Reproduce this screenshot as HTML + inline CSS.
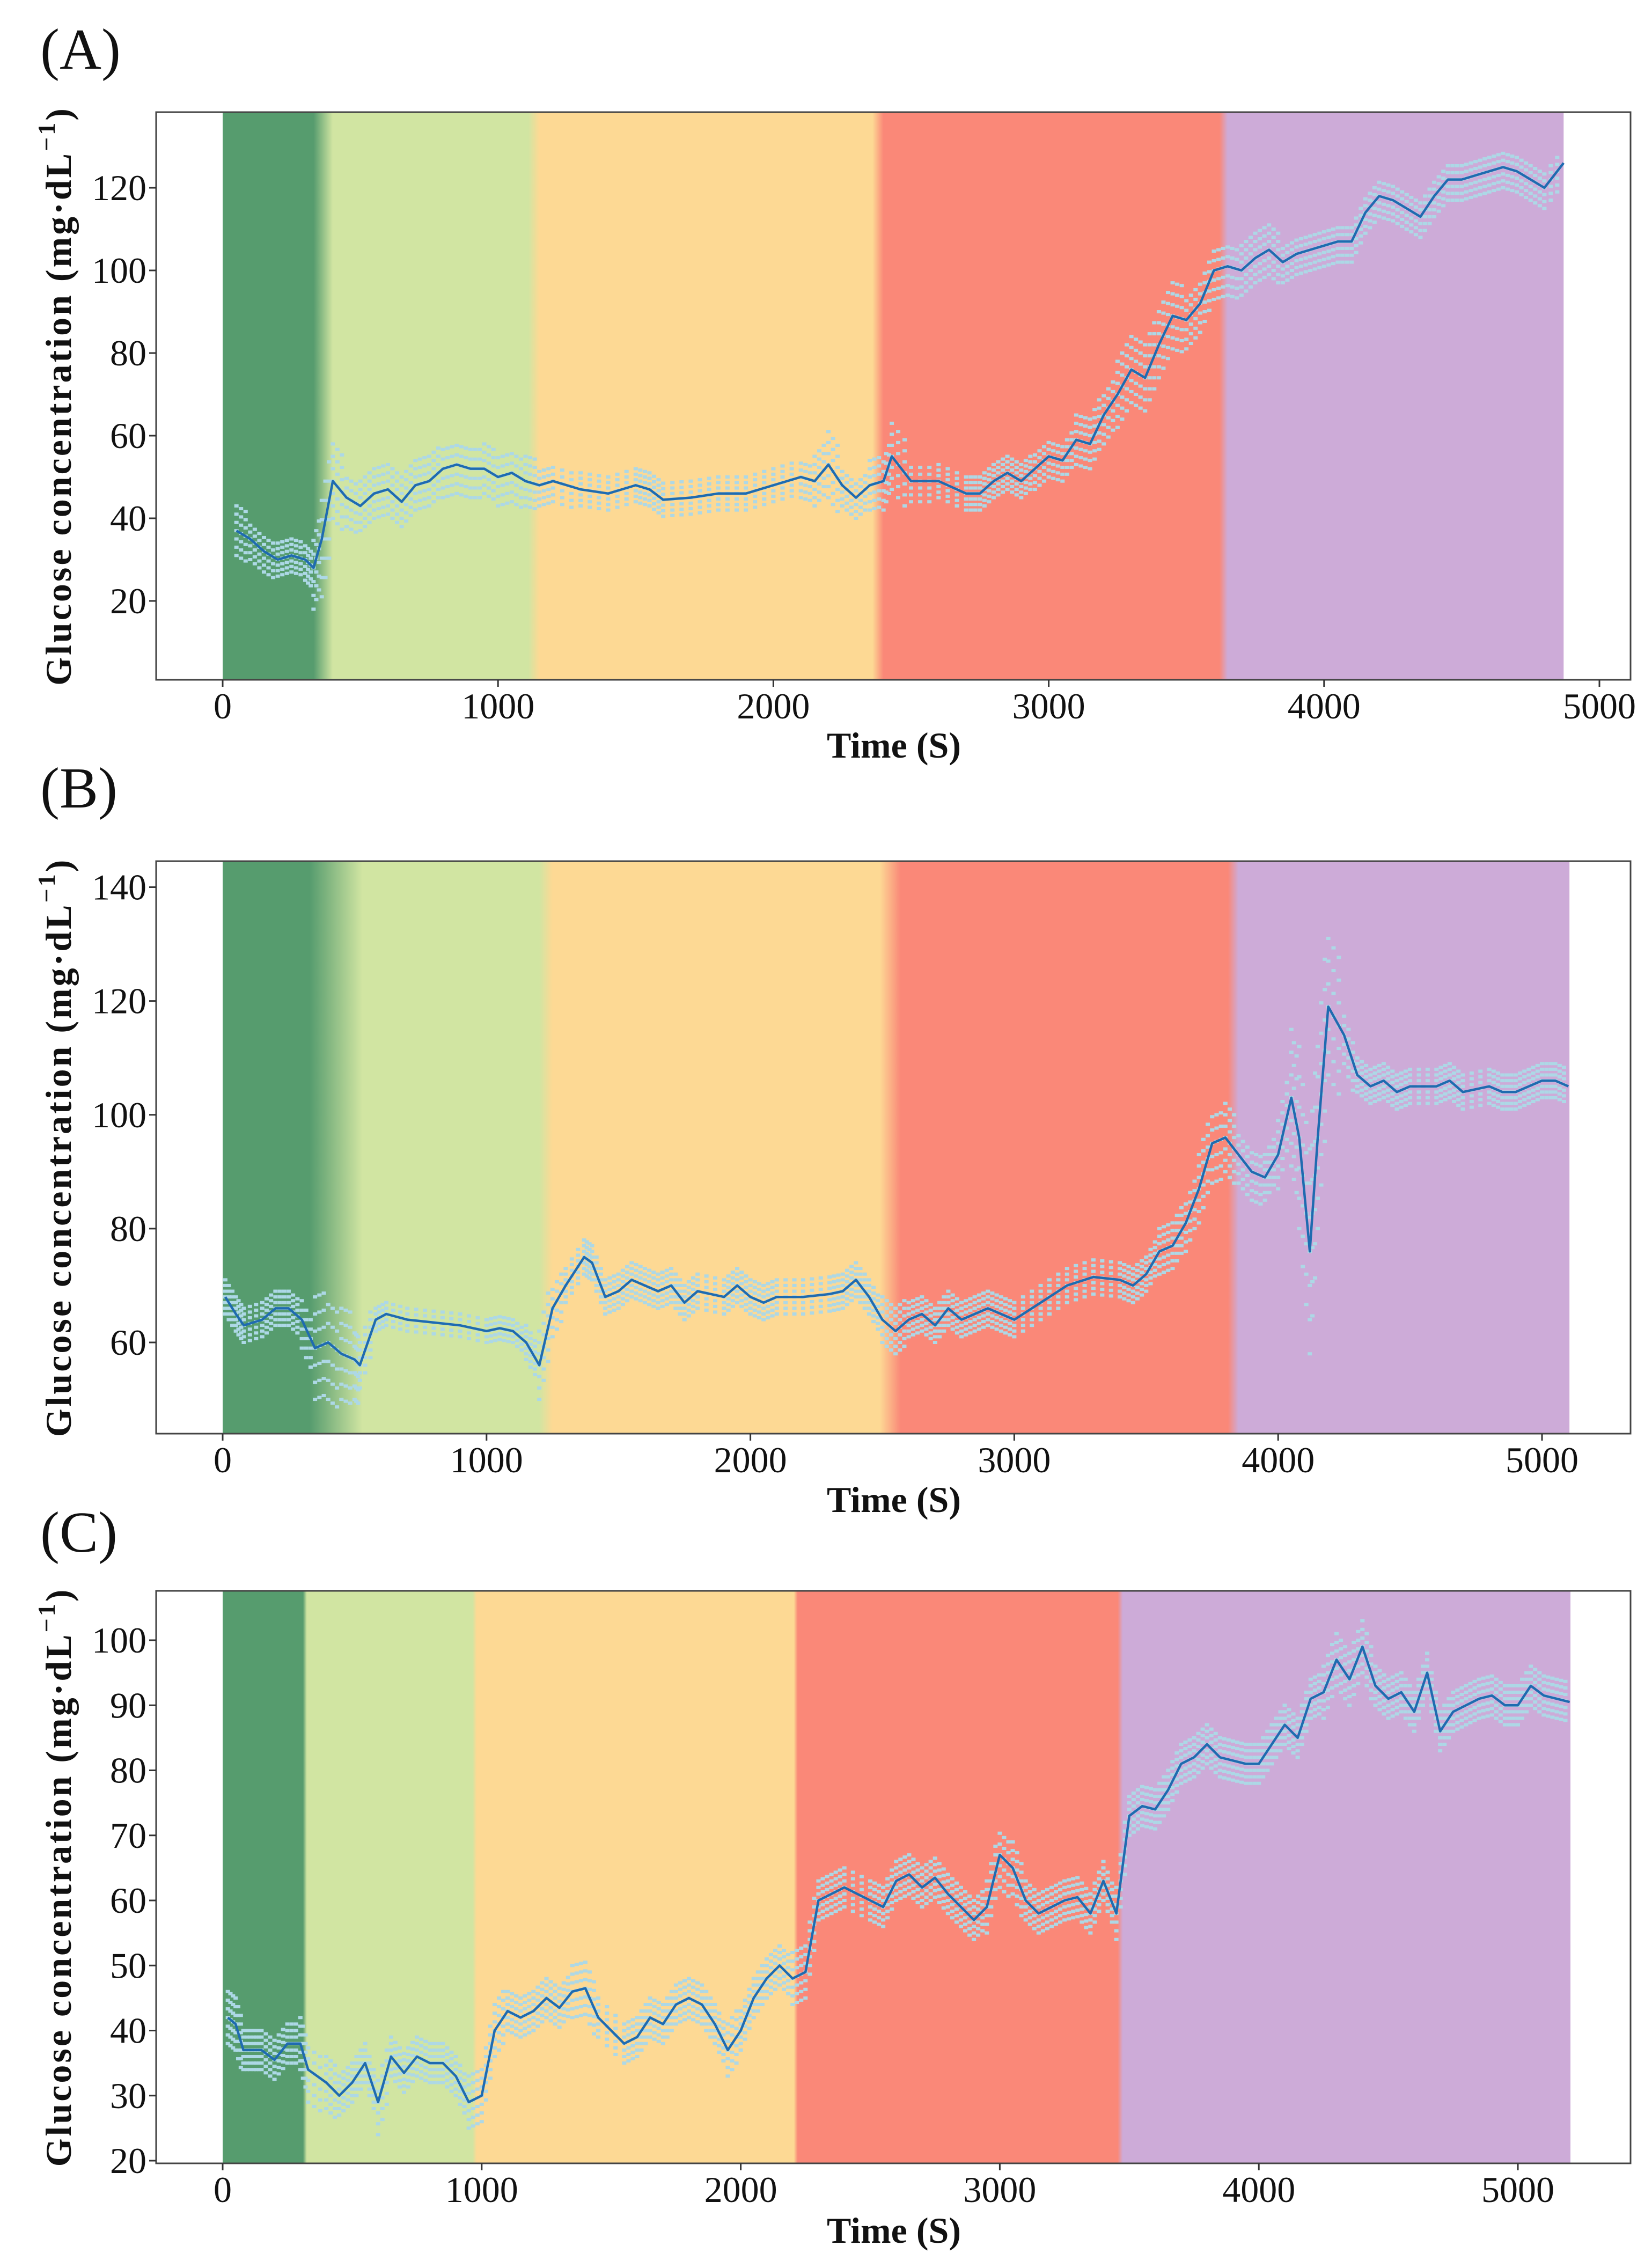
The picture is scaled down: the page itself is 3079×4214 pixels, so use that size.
<!DOCTYPE html>
<html><head><meta charset="utf-8"><style>
html,body{margin:0;padding:0;background:#fff;}
svg{display:block;}
text{font-family:"Liberation Serif",serif;fill:#111;}
</style></head><body>
<svg id="fig" xmlns="http://www.w3.org/2000/svg" width="3079" height="4214" viewBox="0 0 3079 4214">
<rect x="0" y="0" width="3079" height="4214" fill="#fff"/>
</svg>
<script>
// ---------- Panel A data ----------
const timesA=[50,100,150,200,250,300,330,360,400,450,500,550,600,650,700,750,800,850,900,950,1000,1050,1100,1150,1200,1300,1400,1500,1550,1600,1700,1800,1900,2000,2100,2150,2200,2250,2300,2350,2400,2430,2500,2600,2700,2750,2800,2850,2900,2950,3000,3050,3100,3150,3200,3250,3300,3350,3400,3450,3500,3550,3600,3650,3700,3750,3800,3850,3900,3950,4000,4050,4100,4150,4200,4250,4300,4350,4400,4450,4500,4550,4600,4650,4700,4750,4800,4870];
const valuesA=[37,35,32,30,31,30,28,35,49,45,43,46,47,44,48,49,52,53,52,52,50,51,49,48,49,47,46,48,47,44.5,45,46,46,48,50,49,53,48,45,48,49,55,49,49,46,46,49,51,49,52,55,54,59,58,65,70,76,74,82,89,88,92,100,101,100,103,105,102,104,105,106,107,107,114,118,117,115,113,118,122,122,123,124,125,124,122,120,126];
const spreadA=[6,5,5,4,4,5,10,14,9,7,6,6,6,6,6,6,7,7,7,6,7,7,6,5,5,4,4,4,4,4,4,4,4,4,5,6,8,5,5,6,7,8,5,4,4,4,4,4,4,5,5,5,6,6,7,8,8,8,8,8,7,7,7,7,6,6,6,5,5,5,5,5,5,5,5,5,5,5,5,5,5,5,5,5,5,5,5,6];
const yTicksA=[20,40,60,80,100,120];
const xTicksA=[0,1000,2000,3000,4000,5000];
const bandsA=[[0,330,400,"#569c6e"],[400,1110,1150,"#d1e5a2"],[1150,2360,2400,"#fdd994"],[2400,3620,3650,"#fa8878"],[3650,4870,4870,"#cdabd8"]];

// ---------- Panel B data ----------
const timesB=[10,50,80,150,200,250,300,350,400,450,500,520,580,620,700,800,900,1000,1050,1100,1150,1200,1250,1300,1370,1400,1450,1500,1550,1600,1650,1700,1750,1800,1900,1950,2000,2050,2100,2200,2300,2350,2400,2450,2500,2550,2600,2650,2700,2750,2800,2850,2900,2950,3000,3100,3200,3300,3400,3450,3500,3550,3600,3650,3700,3750,3800,3850,3900,3950,4000,4050,4080,4120,4150,4190,4250,4300,4350,4400,4450,4500,4600,4650,4700,4800,4850,4900,4950,5000,5050,5100];
const valuesB=[68,65,63,64,66,66,64,59,60,58,57,56,64,65,64,63.5,63,62,62.5,62,60,56,66,70,75,74,68,69,71,70,69,70,67,69,68,70,68,67,68,68,68.5,69,71,68,64,62,64,65,63,66,64,65,66,65,64,67,70,71.5,71,70,72,76,77,81,87,95,96,93,90,89,93,103,96,76,96,119,114,107,105,106,104,105,105,106,104,105,104,104,105,106,106,105];
const spreadB=[3,3,3,3,3,3,5,9,10,8,7,4,2,2,2,2,2,2,2,2,3,6,5,3,3,3,3,3,3,3,3,3,3,3,3,3,3,3,3,3,3,3,3,3,4,4,3,3,3,3,3,3,3,3,3,3,3,3,3,3,3,4,4,5,6,7,6,5,5,4,6,12,16,18,16,12,5,3,3,3,3,3,3,3,3,3,3,3,3,3,3,3];
const yTicksB=[60,80,100,120,140];
const xTicksB=[0,1000,2000,3000,4000,5000];
const bandsB=[[0,330,530,"#569c6e"],[530,1200,1250,"#d1e5a2"],[1250,2490,2570,"#fdd994"],[2570,3810,3850,"#fa8878"],[3850,5104,5104,"#cdabd8"]];

// ---------- Panel C data ----------
const timesC=[20,50,80,120,150,200,250,300,330,400,450,500,550,600,650,700,750,800,850,900,950,1000,1050,1100,1150,1200,1250,1300,1350,1400,1450,1550,1600,1650,1700,1750,1800,1850,1900,1950,2000,2050,2100,2150,2200,2250,2300,2350,2400,2500,2550,2600,2650,2700,2750,2800,2850,2900,2950,3000,3050,3100,3150,3200,3250,3300,3350,3400,3450,3500,3550,3600,3650,3700,3750,3800,3850,3900,3950,4000,4050,4100,4150,4200,4250,4300,4350,4400,4450,4500,4550,4600,4650,4700,4750,4800,4850,4900,4950,5000,5050,5100,5150,5200];
const valuesC=[42,41,37,37,37,35.5,38,38,34,32,30,32,35,29,36,33.5,36,35,35,33,29,30,40,43,42,43,45,43.5,46,46.5,42,38,39,42,41,44,45,44,41,37,40,45,48,50,48,49,60,61,62,60,59,63,64,62,63.5,61,59,57,59,67,65,60,58,59,60,60.5,58,63,58,73,74.5,74,77,81,82,84,82,81.5,81,81,84,87,85,91,92,97,94,99,93,91,92,89,95,86,89,90,91,91.5,90,90,93,91.5,91,90.5];
const spreadC=[4,4,3,3,3,3,3,4,5,4,3,3,3,5,3,3,3,3,3,3,4,4,4,3,3,3,3,3,4,4,3,3,3,3,3,3,3,3,3,4,3,3,3,3,4,4,3,3,3,3,3,3,3,3,3,3,3,3,4,5,4,3,3,3,3,3,3,3,4,3,3,3,3,3,3,3,3,3,3,3,3,3,3,3,4,4,4,4,3,3,3,3,3,3,3,3,3,3,3,3,3,3,3,3];
const yTicksC=[20,30,40,50,60,70,80,90,100];
const xTicksC=[0,1000,2000,3000,4000,5000];
const bandsC=[[0,310,325,"#569c6e"],[325,965,980,"#d1e5a2"],[980,2205,2220,"#fdd994"],[2220,3455,3475,"#fa8878"],[3475,5203,5203,"#cdabd8"]];

const NS="http://www.w3.org/2000/svg";
const svg=document.getElementById('fig');
function el(tag,attrs,parent){const e=document.createElementNS(NS,tag);for(const k in attrs)e.setAttribute(k,attrs[k]);(parent||svg).appendChild(e);return e;}

const panels=[
 {id:'a',letter:'(A)',letterY:128,top:209,bottom:1267,x0:415,x5000:2981,yLo:20,yLoPx:1120,yHi:120,yHiPx:350,times:timesA,values:valuesA,spread:spreadA,yTicks:yTicksA,xTicks:xTicksA,bands:bandsA,xlabY:1412},
 {id:'b',letter:'(B)',letterY:1505,top:1605,bottom:2672,x0:415,x5000:2874,yLo:60,yLoPx:2502,yHi:140,yHiPx:1653.5,times:timesB,values:valuesB,spread:spreadB,yTicks:yTicksB,xTicks:xTicksB,bands:bandsB,xlabY:2818},
 {id:'c',letter:'(C)',letterY:2892,top:2965,bottom:4032,x0:415,x5000:2829,yLo:20,yLoPx:4027,yHi:100,yHiPx:3057,times:timesC,values:valuesC,spread:spreadC,yTicks:yTicksC,xTicks:xTicksC,bands:bandsC,xlabY:4180}
];
const L=291,R=3039;
panels.forEach(p=>{
 const g=el('g',{});
 
 
 const xs=t=>p.x0+(p.x5000-p.x0)*t/5000;
 const ys=v=>p.yLoPx+(p.yHiPx-p.yLoPx)*(v-p.yLo)/(p.yHi-p.yLo);
 const lt=el('text',{x:75,y:p.letterY,'font-size':108},g);lt.textContent=p.letter;
 
 
 const defs=el('defs',{},g);
 const gx0=xs(0),gx1=xs(p.bands[p.bands.length-1][2]);
 const lg=el('linearGradient',{id:'grad'+p.id,gradientUnits:'userSpaceOnUse',x1:gx0,y1:0,x2:gx1,y2:0},defs);
 const W=gx1-gx0;
 p.bands.forEach(b=>{
  el('stop',{offset:((xs(b[0])-gx0)/W),'stop-color':b[3]},lg);
  el('stop',{offset:((xs(b[1])-gx0)/W),'stop-color':b[3]},lg);
 });
 const bg=el('rect',{x:gx0,y:p.top,width:W,height:p.bottom-p.top,fill:'url(#grad'+p.id+')'},g);
 
 
 const sg=el('g',{fill:'#add8e6'},g);
 
 
 for(let i=0;i<p.times.length-1;i++){
  for(let k=0;k<3;k++){
   const f=k/3;const t=p.times[i]+(p.times[i+1]-p.times[i])*f;
   const v=p.values[i]+(p.values[i+1]-p.values[i])*f;
   const s=p.spread[i];
   for(let d=-s;d<=s;d+=Math.max(1,s/3)){
    el('rect',{x:xs(t)-4,y:ys(v+d)-3,width:8,height:6},sg);
   }
  }
 }
 let dstr='';
 p.times.forEach((t,i)=>{dstr+=(i?'L':'M')+xs(t).toFixed(1)+' '+ys(p.values[i]).toFixed(1);});
 const ln=el('path',{d:dstr,fill:'none',stroke:'#1f6bb0','stroke-width':4.5,'stroke-linejoin':'round'},g);
 
 
 const fr=el('rect',{x:L,y:p.top,width:R-L,height:p.bottom-p.top,fill:'none',stroke:'#444','stroke-width':3},g);
 
 
 p.xTicks.forEach(t=>{
  const x=xs(t);
  el('line',{x1:x,y1:p.bottom,x2:x,y2:p.bottom+13,stroke:'#333','stroke-width':3},g);
  const tx=el('text',{x:x,y:p.bottom+72,'font-size':68,'text-anchor':'middle'},g);tx.textContent=t;
  
  
 });
 p.yTicks.forEach(v=>{
  const y=ys(v);
  el('line',{x1:L-13,y1:y,x2:L,y2:y,stroke:'#333','stroke-width':3},g);
  const tx=el('text',{x:L-18,y:y+23,'font-size':68,'text-anchor':'end'},g);tx.textContent=v;
  
  
 });
 const xl=el('text',{x:1666,y:p.xlabY,'font-size':68,'font-weight':'bold','text-anchor':'middle'},g);xl.textContent='Time (S)';
 
 
 const cy=(p.top+p.bottom)/2;
 const yl=el('text',{x:0,y:0,'font-size':68,'font-weight':'bold','letter-spacing':4,'text-anchor':'middle',transform:'translate(132 '+cy+') rotate(-90)'},g);
 yl.innerHTML='Glucose concentration (mg·dL<tspan dy="-30" font-size="46">−1</tspan><tspan dy="30">)</tspan>';
 
 
});
</script>
</body></html>
